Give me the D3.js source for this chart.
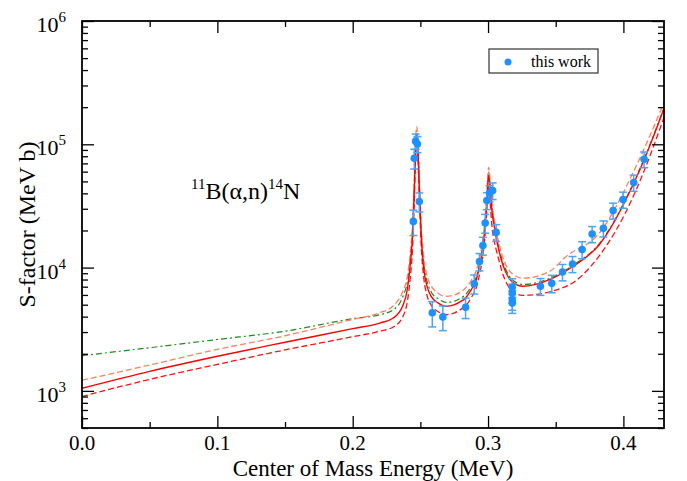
<!DOCTYPE html>
<html>
<head>
<meta charset="utf-8">
<script src="https://cdn.jsdelivr.net/npm/d3@7"></script>
<style>
  html, body { margin: 0; padding: 0; background: #fff; }
  svg text { font-family: "Liberation Serif", "DejaVu Serif", serif; fill: #000; }
</style>
</head>
<body>
<svg id="chart" width="687" height="481"></svg>
<script>
// --- data (E in MeV, S in MeV b) ---
const xMajorTicks = [0.0, 0.1, 0.2, 0.3, 0.4];
const xMinorTicks = [0.05, 0.15, 0.25, 0.35];
const yDecades = [3, 4, 5, 6];

// measured points: [E, S, dS]
const thisWork = [
  [0.2448, 23700, 5500], [0.2455, 77000, 14000], [0.2465, 106000, 15000],
  [0.2478, 100500, 15000], [0.2492, 34300, 6000], [0.2588, 4300, 1000],
  [0.2666, 3980, 900], [0.2834, 4760, 900], [0.2898, 7400, 1300],
  [0.2937, 11200, 1800], [0.2962, 15100, 2500], [0.2979, 23000, 4000],
  [0.2991, 35000, 5500], [0.3011, 40200, 6000], [0.3034, 42100, 6500],
  [0.3060, 19300, 3000], [0.3179, 6920, 1200], [0.3179, 6230, 1100],
  [0.3179, 5500, 1000], [0.3179, 5150, 900], [0.3387, 7050, 1100],
  [0.3471, 7450, 1200], [0.3550, 9200, 1400], [0.3624, 10700, 1600],
  [0.3695, 14000, 2200], [0.3769, 18700, 2800], [0.3852, 20800, 3100],
  [0.3924, 29000, 4300], [0.3998, 35600, 5300], [0.4076, 48900, 7300],
  [0.4153, 75600, 11000]
];

// best fit (red solid)
const fitBest = [
  [0, 1050], [0.05, 1440], [0.1, 1910], [0.15, 2480], [0.2, 3200], [0.22, 3550],
  [0.23, 3900], [0.237, 4900], [0.2405, 6800], [0.2425, 10500], [0.2443, 19000],
  [0.2455, 42000], [0.2465, 95000], [0.2473, 118000], [0.2481, 95000],
  [0.2493, 42000], [0.2505, 19000], [0.2525, 9800], [0.255, 7000], [0.258, 5850],
  [0.263, 5170], [0.269, 4850], [0.2753, 5010], [0.2802, 5340], [0.2827, 5570],
  [0.2876, 6620], [0.2913, 7980], [0.2937, 10200], [0.2962, 14500], [0.2979, 22000],
  [0.2991, 34000], [0.3004, 56000], [0.3017, 42000], [0.303, 28000], [0.3045, 22000],
  [0.306, 17500], [0.3085, 13100], [0.311, 10500], [0.3134, 9040], [0.3183, 7590],
  [0.3257, 7050], [0.3454, 7980], [0.3626, 10200], [0.3823, 15400], [0.4074, 47600],
  [0.4155, 75600], [0.43, 195000]
];

// upper band (salmon dashed)
const fitUpper = [
  [0, 1220], [0.05, 1620], [0.1, 2170], [0.15, 2800], [0.2, 3800], [0.22, 4300],
  [0.23, 4900], [0.237, 6400], [0.2405, 8600], [0.2425, 13000], [0.2443, 23000],
  [0.2455, 50000], [0.2465, 110000], [0.2473, 140000], [0.2481, 112000],
  [0.2493, 50000], [0.2505, 23000], [0.2525, 12000], [0.255, 8500], [0.258, 7100],
  [0.263, 6200], [0.269, 5850], [0.2753, 6000], [0.2802, 6400], [0.2827, 6700],
  [0.2876, 7900], [0.2913, 9500], [0.2937, 12000], [0.2962, 17000], [0.2979, 26000],
  [0.2991, 40000], [0.3004, 65000], [0.3017, 48000], [0.303, 32000], [0.3045, 25000],
  [0.306, 20000], [0.3085, 15000], [0.311, 12000], [0.3134, 10400], [0.3183, 8800],
  [0.3257, 8200], [0.3454, 9300], [0.3577, 12300], [0.3823, 19100], [0.4074, 59700],
  [0.4155, 93000], [0.43, 218000]
];

// lower band (red dashed)
const fitLower = [
  [0, 900], [0.05, 1240], [0.1, 1640], [0.15, 2150], [0.2, 2750], [0.22, 3050],
  [0.23, 3300], [0.237, 4000], [0.2405, 5400], [0.2425, 8200], [0.2443, 15000],
  [0.2455, 34000], [0.2465, 80000], [0.2473, 100000], [0.2481, 80000],
  [0.2493, 35000], [0.2505, 16000], [0.2525, 8300], [0.255, 5900], [0.258, 4950],
  [0.263, 4400], [0.269, 4160], [0.2753, 4300], [0.2802, 4600], [0.2827, 4800],
  [0.2876, 5700], [0.2913, 6900], [0.2937, 8800], [0.2962, 12500], [0.2979, 19000],
  [0.2991, 29000], [0.3004, 48000], [0.3017, 32000], [0.303, 21000], [0.3045, 16500],
  [0.306, 14000], [0.3085, 11000], [0.311, 8800], [0.3134, 7600], [0.3183, 6400],
  [0.3257, 5960], [0.3577, 7050], [0.3823, 12500], [0.4074, 38000],
  [0.4155, 61600], [0.43, 165000]
];

// other fit (green dash-dot)
const fitOther = [
  [0, 1930], [0.05, 2240], [0.1, 2610], [0.15, 3050], [0.2, 3850], [0.22, 4150],
  [0.23, 4550], [0.237, 5800], [0.2405, 7800], [0.2425, 11500], [0.2443, 21000],
  [0.2455, 46000], [0.2465, 102000], [0.2473, 126000], [0.2481, 102000],
  [0.2493, 46000], [0.2505, 21000], [0.2525, 10800], [0.255, 7700], [0.258, 6350],
  [0.263, 5600], [0.269, 5220], [0.2753, 5350], [0.2802, 5700], [0.2827, 5950],
  [0.2876, 7000], [0.2913, 8400], [0.2937, 10800], [0.2962, 15300], [0.2979, 23500],
  [0.2991, 36500], [0.3004, 60000], [0.3017, 45000], [0.303, 30000], [0.3045, 23500],
  [0.306, 18500], [0.3085, 13800], [0.311, 11000], [0.3134, 9500], [0.3183, 7900],
  [0.3257, 7300], [0.3454, 8150], [0.3626, 10400], [0.3823, 15700], [0.4074, 48500],
  [0.4155, 77000], [0.43, 198000]
];

// --- layout ---
const svg = d3.select("#chart");
const L = 82, R = 664, T = 21, B = 428;
const x = d3.scaleLinear().domain([0, 0.43]).range([L, R]);
const y = d3.scaleLog().domain([500, 1e6]).range([B, T]);

svg.append("defs").append("clipPath").attr("id", "plotClip")
  .append("rect").attr("x", L).attr("y", T).attr("width", R - L).attr("height", B - T);

// --- curves ---
const line = d3.line()
  .x(d => x(d[0]))
  .y(d => y(d[1]))
  .curve(d3.curveMonotoneX);

const curves = svg.append("g").attr("clip-path", "url(#plotClip)");
const curveStyles = [
  { data: fitOther, color: "#1f8a1f", dash: "6,3,2,3", width: 1.2 },
  { data: fitUpper, color: "#ff7f60", dash: "6,3", width: 1.3 },
  { data: fitLower, color: "#ff1010", dash: "6,3", width: 1.3 },
  { data: fitBest, color: "#ff0000", dash: null, width: 1.4 }
];
curveStyles.forEach(c => {
  curves.append("path")
    .datum(c.data)
    .attr("d", line)
    .attr("fill", "none")
    .attr("stroke", c.color)
    .attr("stroke-width", c.width)
    .attr("stroke-dasharray", c.dash);
});

// --- data points with error bars ---
const pts = svg.append("g").attr("clip-path", "url(#plotClip)");
const errColor = "#4aa5fa", dotColor = "#1e90ff";
const eb = pts.selectAll("g.eb").data(thisWork).join("g").attr("class", "eb");
eb.append("line")
  .attr("x1", d => x(d[0])).attr("x2", d => x(d[0]))
  .attr("y1", d => y(d[1] + d[2])).attr("y2", d => y(d[1] - d[2]))
  .attr("stroke", errColor).attr("stroke-width", 1.5);
eb.append("line")
  .attr("x1", d => x(d[0]) - 4).attr("x2", d => x(d[0]) + 4)
  .attr("y1", d => y(d[1] + d[2])).attr("y2", d => y(d[1] + d[2]))
  .attr("stroke", errColor).attr("stroke-width", 1.5);
eb.append("line")
  .attr("x1", d => x(d[0]) - 4).attr("x2", d => x(d[0]) + 4)
  .attr("y1", d => y(d[1] - d[2])).attr("y2", d => y(d[1] - d[2]))
  .attr("stroke", errColor).attr("stroke-width", 1.5);
pts.selectAll("circle").data(thisWork).join("circle")
  .attr("cx", d => x(d[0])).attr("cy", d => y(d[1]))
  .attr("r", 3.8).attr("fill", dotColor);

// --- axes (inward ticks, all four sides) ---
const yMinor = [];
for (let e = 2; e <= 5; e++) {
  for (let k = 1; k <= 9; k++) {
    const v = k * Math.pow(10, e);
    if (v >= 500 && v <= 1e6 && k !== 1) yMinor.push(v);
  }
}
const yMajor = yDecades.map(e => Math.pow(10, e));

function addAxis(axisFn, scale, values, size, transform) {
  const g = svg.append("g")
    .attr("transform", transform)
    .call(axisFn(scale).tickValues(values).tickSize(size).tickFormat(""));
  g.select(".domain").remove();
  g.selectAll(".tick line").attr("stroke", "#000").attr("stroke-width", 1.3);
  return g;
}
addAxis(d3.axisBottom, x, xMajorTicks, -12, `translate(0,${B})`);
addAxis(d3.axisBottom, x, xMinorTicks, -6, `translate(0,${B})`);
addAxis(d3.axisTop, x, xMajorTicks, -12, `translate(0,${T})`);
addAxis(d3.axisTop, x, xMinorTicks, -6, `translate(0,${T})`);
addAxis(d3.axisLeft, y, yMajor, -12, `translate(${L},0)`);
addAxis(d3.axisLeft, y, yMinor, -6, `translate(${L},0)`);
addAxis(d3.axisRight, y, yMajor, -12, `translate(${R},0)`);
addAxis(d3.axisRight, y, yMinor, -6, `translate(${R},0)`);

svg.append("rect")
  .attr("x", L).attr("y", T).attr("width", R - L).attr("height", B - T)
  .attr("fill", "none").attr("stroke", "#000").attr("stroke-width", 1.8);

// tick labels
svg.selectAll("text.xl").data(xMajorTicks).join("text")
  .attr("class", "xl")
  .attr("x", d => x(d)).attr("y", 450)
  .attr("text-anchor", "middle").attr("font-size", 21)
  .text(d => d3.format(".1f")(d));

const yl = svg.selectAll("text.yl").data(yDecades).join("text")
  .attr("class", "yl")
  .attr("x", 66).attr("y", d => y(Math.pow(10, d)) + 11)
  .attr("text-anchor", "end").attr("font-size", 22);
yl.append("tspan").text("10");
yl.append("tspan").attr("font-size", 15).attr("dy", -10).text(d => d);

// axis titles
svg.append("text")
  .attr("x", (L + R) / 2).attr("y", 476)
  .attr("text-anchor", "middle").attr("font-size", 23)
  .text("Center of Mass Energy (MeV)");
svg.append("text")
  .attr("transform", `translate(35,${(T + B) / 2}) rotate(-90)`)
  .attr("text-anchor", "middle").attr("font-size", 24)
  .text("S-factor (MeV b)");

// reaction label
const rl = svg.append("text").attr("x", 191).attr("y", 199).attr("font-size", 24);
rl.append("tspan").attr("font-size", 15).attr("dy", -10).text("11");
rl.append("tspan").attr("dy", 10).text("B(α,n)");
rl.append("tspan").attr("font-size", 15).attr("dy", -10).text("14");
rl.append("tspan").attr("dy", 10).text("N");

// legend
const lg = svg.append("g");
lg.append("rect")
  .attr("x", 489).attr("y", 49).attr("width", 109).attr("height", 24)
  .attr("fill", "#fff").attr("stroke", "#333").attr("stroke-width", 1.2);
lg.append("circle").attr("cx", 508).attr("cy", 62).attr("r", 3.5).attr("fill", dotColor);
lg.append("text").attr("x", 531).attr("y", 67).attr("font-size", 16).text("this work");
</script>
</body>
</html>
